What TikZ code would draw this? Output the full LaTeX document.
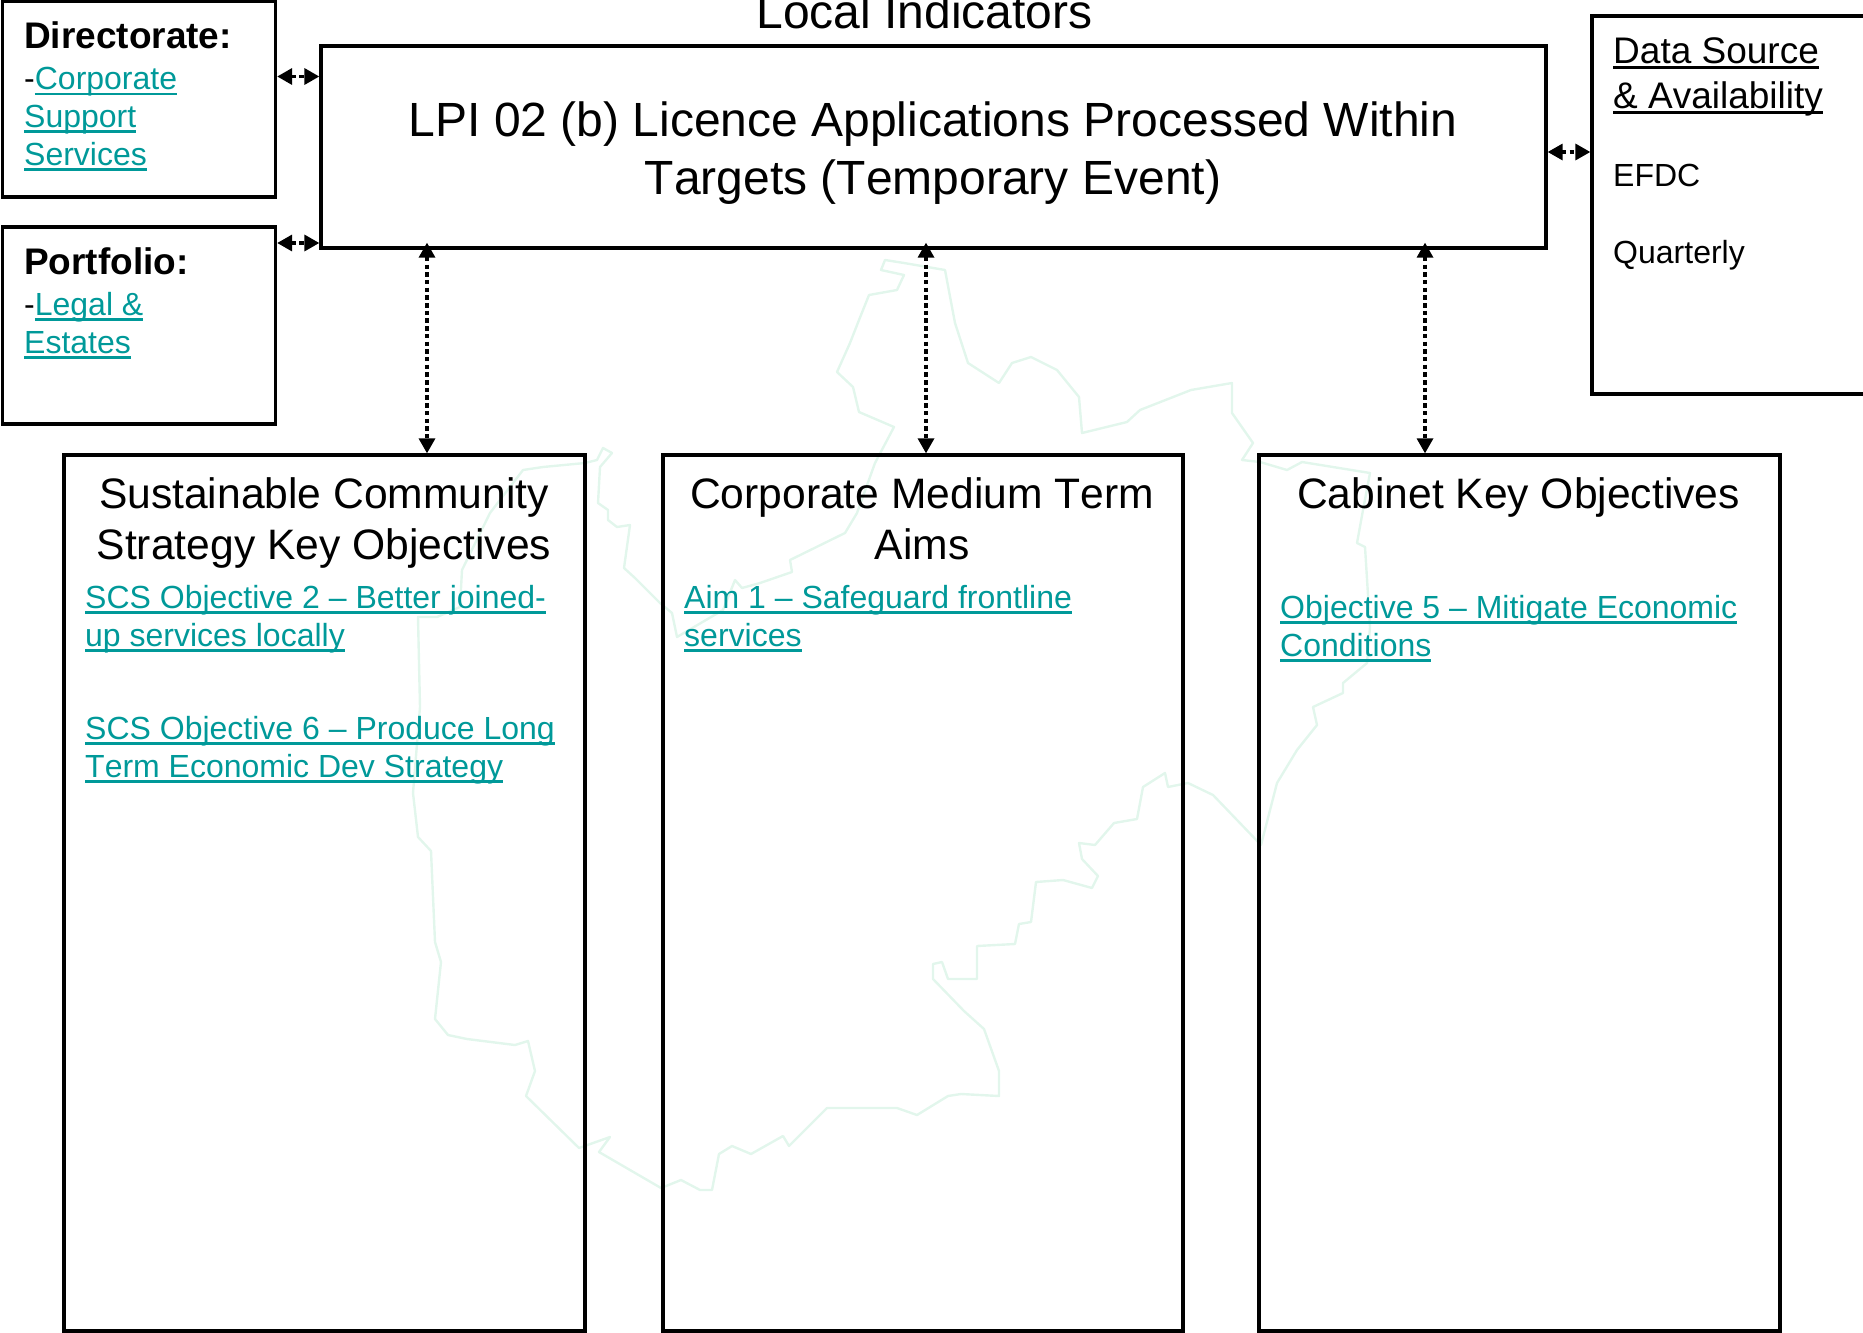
\documentclass[tikz,border=0pt]{standalone}
\usepackage{fontspec}
\setmainfont[Kerning=Off]{Liberation Sans}
\usetikzlibrary{arrows.meta}
\definecolor{linkteal}{HTML}{009999}
\definecolor{mapgreen}{HTML}{E2F6EC}
\tikzset{>={Triangle[length=15pt,width=16pt]}}
\tikzset{framebox/.style={draw,line width=3.3pt,inner sep=0pt}}
\tikzset{tie/.style={<->,line width=3.3pt,dash pattern=on 4.5pt off 3.2pt}}
\tikzset{bigtext/.style={inner sep=0pt,align=center,font=\fontsize{48}{58}\selectfont}}
\tikzset{headtext/.style={inner sep=0pt,align=center,anchor=base,font=\fontsize{42.6}{51}\selectfont}}
\tikzset{bodytext/.style={inner sep=0pt,align=left,anchor=base west,font=\fontsize{32}{37.8}\selectfont}}
\newsavebox{\undrbox}
\newcommand*{\undr}[1]{\sbox{\undrbox}{#1}\rlap{\rule[-5.5pt]{\wd\undrbox}{2.4pt}}\usebox{\undrbox}}
\newcommand*{\lnk}[1]{{\color{linkteal}\undr{#1}}}

\begin{document}
\begin{tikzpicture}[x=1pt,y=-1pt]
\useasboundingbox (0,0) rectangle (1863,1333);
\draw[mapgreen,line width=2.4pt,line join=round]
  (885,260) -- (881,270) -- (904,275) -- (897,290) -- (869,295) -- (859,320) -- (850,343)
  -- (837,372) -- (853,387) -- (859,412) -- (894,427) -- (875,463) -- (857,513) -- (845,533)
  -- (790,560) -- (792,572) -- (760,583) -- (742,588) -- (735,580) -- (723,610) -- (677,637)
  -- (672,613) -- (660,603) -- (635,578) -- (624,568) -- (630,525) -- (617,527) -- (608,520)
  -- (608,510) -- (598,503) -- (600,467) -- (612,453) -- (603,448) -- (597,460) -- (585,463)
  -- (543,467) -- (523,470) -- (490,513) -- (462,570) -- (460,607) -- (437,617) -- (418,617)
  -- (420,707) -- (413,793) -- (418,837) -- (431,851) -- (435,942) -- (441,962) -- (435,1019)
  -- (448,1035) -- (467,1039) -- (515,1045) -- (528,1041) -- (535,1071) -- (526,1096)
  -- (579,1148) -- (610,1137) -- (599,1152) -- (661,1188) -- (681,1180) -- (700,1190)
  -- (712,1190) -- (719,1154) -- (732,1146) -- (751,1154) -- (783,1136) -- (789,1146)
  -- (827,1108) -- (897,1108) -- (917,1115) -- (948,1096) -- (961,1094) -- (999,1096)
  -- (999,1071) -- (984,1029) -- (964,1011) -- (933,979) -- (933,964) -- (942,962)
  -- (948,979) -- (977,979) -- (977,946) -- (1015,944) -- (1019,924) -- (1031,922)
  -- (1036,882) -- (1063,880) -- (1092,888) -- (1098,876) -- (1082,859) -- (1079,843)
  -- (1095,845) -- (1114,823) -- (1137,819) -- (1143,787) -- (1165,773) -- (1168,787)
  -- (1188,783) -- (1213,795) -- (1261,845) -- (1277,783) -- (1297,750) -- (1317,725)
  -- (1313,707) -- (1343,693) -- (1343,683) -- (1367,663) -- (1370,627) -- (1365,547)
  -- (1357,543) -- (1363,510) -- (1370,473) -- (1302,462) -- (1287,470) -- (1260,462)
  -- (1242,460) -- (1253,443) -- (1232,413) -- (1232,383) -- (1191,390) -- (1140,410)
  -- (1127,422) -- (1082,433) -- (1079,397) -- (1057,370) -- (1031,357) -- (1012,363)
  -- (999,383) -- (968,363) -- (955,323) -- (945,270) -- (904,263) -- cycle;
\node[framebox,minimum width=273pt,minimum height=195.5pt] (dir) at (139,99.25) {};
\node[framebox,minimum width=273pt,minimum height=197pt] (port) at (139,325.5) {};
\node[framebox,minimum width=1225pt,minimum height=202pt] (main) at (933.5,147) {};
\node[framebox,minimum width=274pt,minimum height=378pt] (data) at (1729,205) {};
\node[framebox,minimum width=521pt,minimum height=876pt] (sus) at (324.5,893) {};
\node[framebox,minimum width=520pt,minimum height=876pt] (corp) at (923,893) {};
\node[framebox,minimum width=521pt,minimum height=876pt] (cab) at (1519.5,893) {};
\node[bigtext,anchor=base] (local) at (924.5,28) {Local Indicators};
\node[bigtext,anchor=base] (lpi) at (933,194) {LPI 02 (b) Licence Applications Processed Within\\Targets (Temporary Event)};
\node[bodytext,font=\fontsize{37}{44}\selectfont\bfseries] (dirhead) at (24,48) {Directorate:};
\node[bodytext] (dirlink) at (24,165) {-\lnk{Corporate}\\\lnk{Support}\\\lnk{Services}};
\node[bodytext,font=\fontsize{37}{44}\selectfont\bfseries] (porthead) at (24,274) {Portfolio:};
\node[bodytext] (portlink) at (24,353) {-\lnk{Legal \&}\\\lnk{Estates}};
\node[bodytext,font=\fontsize{37}{45}\selectfont] (datahead) at (1613,108) {\undr{Data Source}\\\undr{\& Availability}};
\node[bodytext] (efdc) at (1613,186) {EFDC};
\node[bodytext] (freq) at (1613,263) {Quarterly};
\node[headtext] (sushead) at (324,559) {Sustainable Community\\Strategy Key Objectives};
\node[headtext] (corphead) at (922,559) {Corporate Medium Term\\Aims};
\node[headtext] (cabhead) at (1518.5,508) {Cabinet Key Objectives};
\node[bodytext] (scstwo) at (85,646) {\lnk{SCS Objective 2 -- Better joined-}\\\lnk{up services locally}};
\node[bodytext] (scssix) at (85,777) {\lnk{SCS Objective 6 -- Produce Long}\\\lnk{Term Economic Dev Strategy}};
\node[bodytext] (aimone) at (684,646) {\lnk{Aim 1 -- Safeguard frontline}\\\lnk{services}};
\node[bodytext] (objfive) at (1280,656) {\lnk{Objective 5 -- Mitigate Economic}\\\lnk{Conditions}};
\coordinate (dirtie) at (298,76.5);
\coordinate (porttie) at (298,243);
\coordinate (datatie) at (1569,152);
\coordinate (sustie) at (427,350);
\coordinate (corptie) at (926,350);
\coordinate (cabtie) at (1425,350);
\draw[tie] (dirtie -| dir.east) -- (dirtie -| main.west);
\draw[tie] (porttie -| port.east) -- (porttie -| main.west);
\draw[tie] (datatie -| main.east) -- (datatie -| data.west);
\draw[tie,shorten <=-7pt] (sustie |- main.south) -- (sustie |- sus.north);
\draw[tie,shorten <=-7pt] (corptie |- main.south) -- (corptie |- corp.north);
\draw[tie,shorten <=-7pt] (cabtie |- main.south) -- (cabtie |- cab.north);
\end{tikzpicture}
\end{document}
